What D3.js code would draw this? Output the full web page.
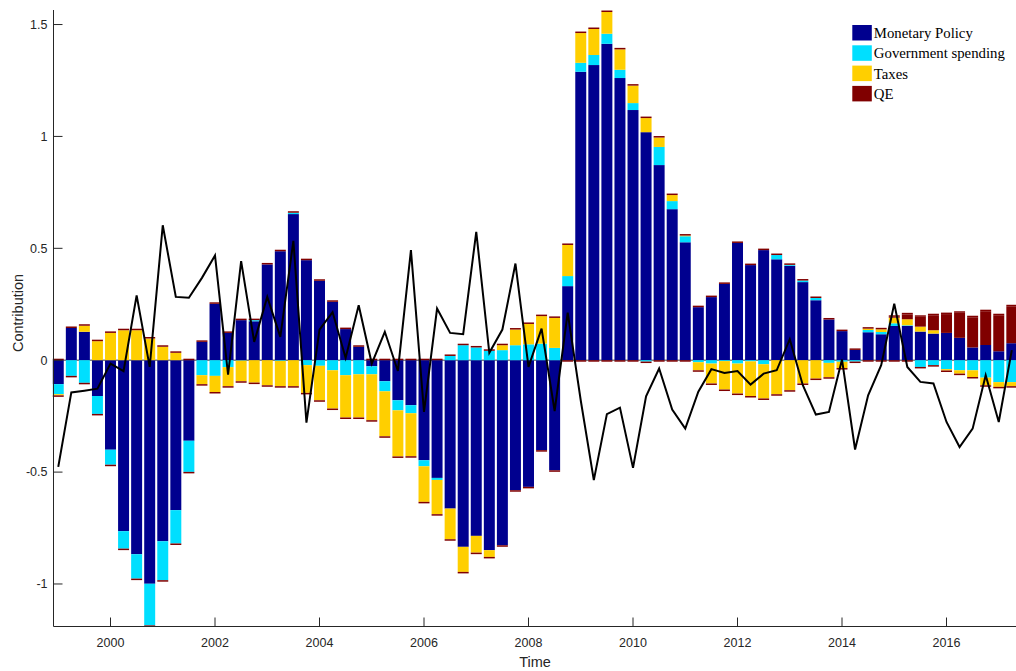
<!DOCTYPE html>
<html><head><meta charset="utf-8">
<script src="https://cdn.jsdelivr.net/npm/d3@7"></script>
<style>body{margin:0;background:#fff}</style>
</head><body>
<svg id="c" width="1016" height="671"></svg>
<script>
const startYear = 1999; // first quarter 1999Q1, quarterly
const seriesNames = ["Monetary Policy","Government spending","Taxes","QE"];
const seriesColors = ["#00008F","#00DFFF","#FFCF00","#800000"];
const monetary = [-0.107,0.144,0.127,-0.16,-0.40,-0.764,-0.867,-0.999,-0.809,-0.67,-0.36,0.082,0.252,0.122,0.179,0.174,0.428,0.487,0.653,0.447,0.355,0.261,0.139,0.06,-0.027,-0.094,-0.179,-0.201,-0.447,-0.526,-0.663,-0.834,-0.785,-0.849,-0.827,-0.581,-0.566,-0.402,-0.492,0.331,1.289,1.319,1.414,1.261,1.118,1.019,0.872,0.675,0.527,0.237,0.282,0.341,0.524,0.425,0.492,0.451,0.422,0.349,0.268,0.182,0.13,0.046,0.125,0.116,0.153,0.153,0.128,0.119,0.122,0.1,0.057,0.068,0.04,0.076];
const govSpending = [-0.045,-0.07,-0.101,-0.08,-0.067,-0.078,-0.109,-0.186,-0.174,-0.149,-0.139,-0.067,-0.07,-0.031,-0.002,0.005,0,-0.003,0.006,-0.022,-0.025,-0.045,-0.067,-0.063,-0.036,-0.045,-0.045,-0.036,-0.027,-0.009,0.019,0.067,0.057,0.042,0.045,0.067,0.071,0.074,0.055,0.045,0.04,0.045,0.045,0.037,0.031,-0.006,0.081,0.036,0.027,-0.009,-0.015,-0.004,-0.015,-0.005,-0.018,0.019,0.004,0.007,0.01,-0.012,-0.007,-0.006,0.01,0.01,0.012,0.003,-0.03,-0.022,-0.04,-0.045,-0.045,-0.078,-0.098,-0.098];
const taxes = [-0.005,0,0.027,0.085,0.122,0.134,0.134,0.097,0.06,0.033,0,-0.04,-0.072,-0.085,-0.092,-0.10,-0.112,-0.113,-0.116,-0.124,-0.154,-0.171,-0.189,-0.193,-0.205,-0.201,-0.206,-0.192,-0.159,-0.153,-0.137,-0.112,-0.075,-0.03,0.022,0.07,0.091,0.123,0.134,0.139,0.133,0.116,0.097,0.091,0.078,0.063,0.042,0.027,0.003,-0.036,-0.089,-0.127,-0.134,-0.155,-0.153,-0.152,-0.134,-0.104,-0.082,-0.064,-0.028,0,0.006,0.012,0.025,0.027,0.022,0.015,-0.006,-0.015,-0.03,-0.034,-0.021,-0.018];
const qe = [0,0,0,0,0,0,0,0,0,0,0,0,0,0,0,0,0,0,0,0,0,0,0,0,0,0,0,0,0,0,0,0,0,0,0,0,0,0,0,0,0,0,0,0,0,0,0,0,0,0,0,0,0,0,0,0,0,0,0,0,0,0,0,0,0.004,0.022,0.044,0.067,0.084,0.112,0.135,0.151,0.161,0.165];
const lineValues = [-0.477,-0.144,-0.136,-0.127,-0.015,-0.049,0.29,-0.03,0.603,0.283,0.279,0.368,0.468,-0.064,0.443,0.082,0.283,0.104,0.533,-0.279,0.137,0.215,0.01,0.246,-0.015,0.127,-0.048,0.492,-0.231,0.231,0.122,0.116,0.574,0.033,0.137,0.432,-0.03,0.141,-0.227,0.213,-0.18,-0.536,-0.241,-0.212,-0.481,-0.161,-0.037,-0.221,-0.306,-0.141,-0.04,-0.057,-0.048,-0.109,-0.06,-0.045,0.094,-0.112,-0.243,-0.231,0.003,-0.399,-0.157,-0.022,0.253,-0.03,-0.097,-0.104,-0.276,-0.388,-0.306,-0.067,-0.276,0.045];
const xTicks = [2000,2002,2004,2006,2008,2010,2012,2014,2016];
const yTicks = [-1,-0.5,0,0.5,1,1.5];

const series = [monetary, govSpending, taxes, qe];
const times = monetary.map((_, i) => startYear + i / 4);

const svg = d3.select("#c");
const L = 53.5, R = 1016, T = 10, B = 626.5;
const x = d3.scaleLinear().domain([1998.909, 2017.33]).range([L, R]);
const y = d3.scaleLinear().domain([-1.19, 1.565]).range([B, T]);
const bw = (x(0.25) - x(0)) * 0.84;
const axisColor = "#262626";

const plot = svg.append("g");
// baseline
plot.append("line").attr("x1", L).attr("x2", R).attr("y1", y(0)).attr("y2", y(0))
  .attr("stroke", "#808080").attr("stroke-width", 1.5);

// stacked bars (positives and negatives stacked separately)
const capsTop = [], capsBot = [];
times.forEach((t, i) => {
  let pos = 0, neg = 0;
  series.forEach((s, k) => {
    const v = s[i];
    if (v === 0) return;
    let y0, y1;
    if (v > 0) { y0 = pos; y1 = pos + v; pos = y1; }
    else { y0 = neg; y1 = neg + v; neg = y1; }
    plot.append("rect")
      .attr("x", x(t) - bw / 2).attr("width", bw)
      .attr("y", y(Math.max(y0, y1))).attr("height", Math.abs(y(y0) - y(y1)))
      .attr("fill", seriesColors[k]);
  });
  capsTop.push({t, v: pos});
  capsBot.push({t, v: neg});
});
plot.selectAll(".capt").data(capsTop).join("rect")
  .attr("x", d => x(d.t) - bw / 2).attr("width", bw)
  .attr("y", d => y(d.v) - 1.5).attr("height", 1.5).attr("fill", "#800000");
plot.selectAll(".capb").data(capsBot).join("rect")
  .attr("x", d => x(d.t) - bw / 2).attr("width", bw)
  .attr("y", d => y(d.v)).attr("height", 1.5).attr("fill", "#800000");

// black line
plot.append("path").datum(lineValues)
  .attr("fill", "none").attr("stroke", "#000").attr("stroke-width", 2)
  .attr("stroke-linejoin", "miter")
  .attr("d", d3.line().x((d, i) => x(times[i])).y(d => y(d)));

// axes
const ax = svg.append("g").attr("font-family", "'Liberation Sans', Arial, sans-serif").attr("fill", axisColor);
ax.append("line").attr("x1", L).attr("x2", L).attr("y1", T).attr("y2", B).attr("stroke", axisColor);
ax.append("line").attr("x1", L).attr("x2", R).attr("y1", B).attr("y2", B).attr("stroke", axisColor);
yTicks.forEach(v => {
  ax.append("line").attr("x1", L).attr("x2", L + 9).attr("y1", y(v)).attr("y2", y(v)).attr("stroke", axisColor);
  ax.append("text").attr("x", L - 6).attr("y", y(v)).attr("dy", "0.35em")
    .attr("text-anchor", "end").attr("font-size", 12.5).text(v);
});
xTicks.forEach(v => {
  ax.append("line").attr("x1", x(v)).attr("x2", x(v)).attr("y1", B).attr("y2", B - 9).attr("stroke", axisColor);
  ax.append("text").attr("x", x(v)).attr("y", 646.5)
    .attr("text-anchor", "middle").attr("font-size", 12.5).text(v);
});
ax.append("text").attr("x", 535).attr("y", 667).attr("text-anchor", "middle").attr("font-size", 14.5).text("Time");
ax.append("text").attr("transform", "translate(23,313) rotate(-90)").attr("text-anchor", "middle")
  .attr("font-size", 14.5).text("Contribution");

// legend
const lg = svg.append("g").attr("transform", "translate(852.3,25)");
seriesNames.forEach((n, k) => {
  const g = lg.append("g").attr("transform", `translate(0,${k * 20.3})`);
  g.append("rect").attr("width", 19.5).attr("height", 15.5).attr("fill", seriesColors[k]);
  g.append("text").attr("x", 21.5).attr("y", 7.75).attr("dy", "0.35em")
    .attr("font-family", "'Liberation Serif', 'Times New Roman', serif").attr("font-size", 14.8)
    .attr("fill", "#000").text(n);
});
</script>
</body></html>
